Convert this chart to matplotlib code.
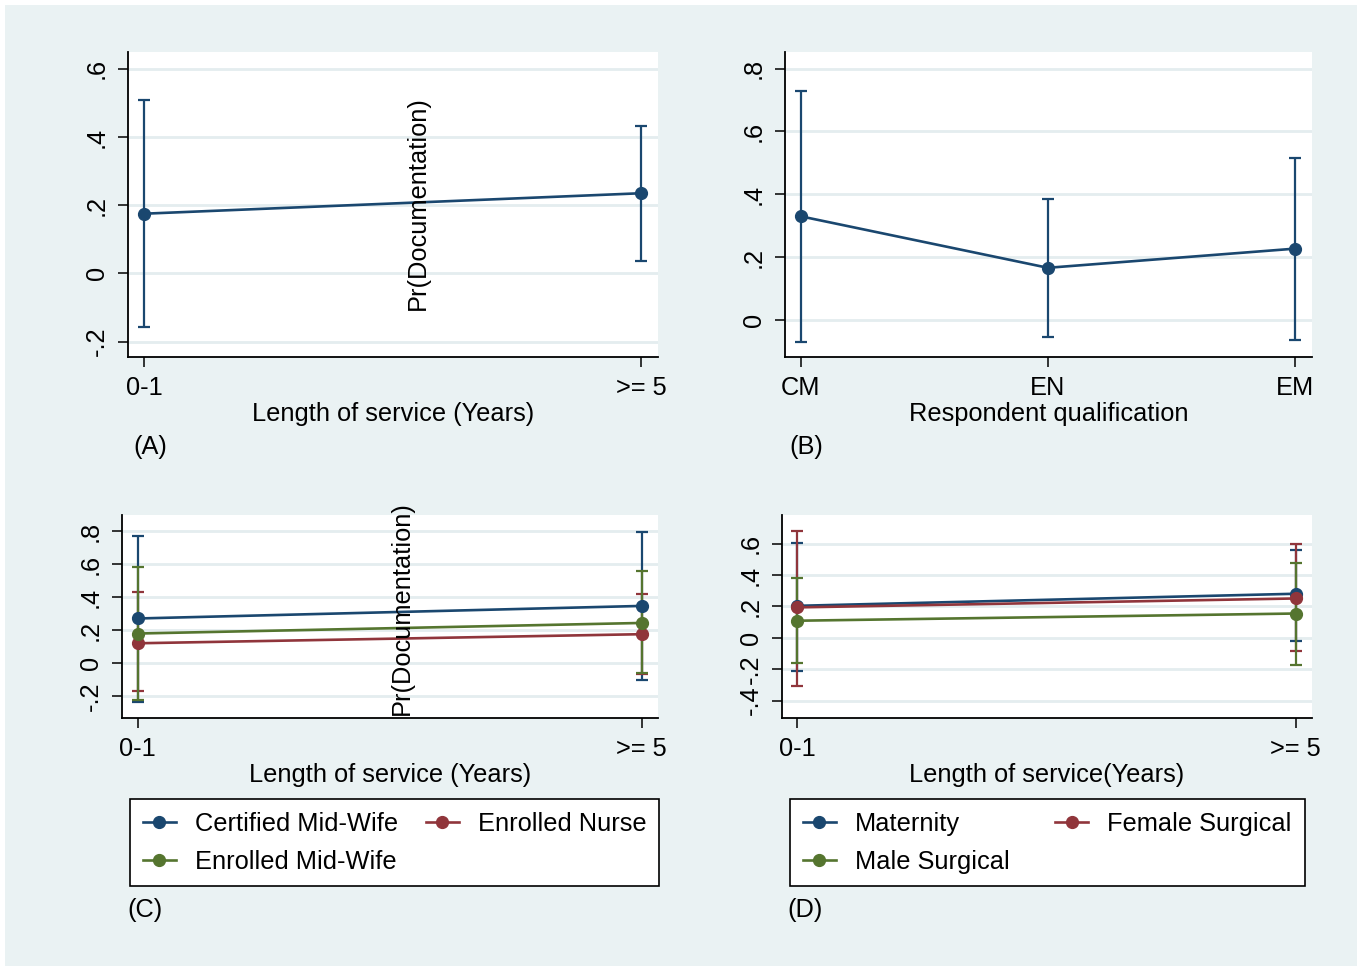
import matplotlib
matplotlib.use("Agg")
import matplotlib.pyplot as plt
from matplotlib.patches import Rectangle

plt.rcParams['font.family'] = ['Liberation Sans', 'DejaVu Sans']

# ---------------- data ----------------
cats_a = ["0-1", ">= 5"]
mean_a = [0.175, 0.235]
lo_a = [-0.158, 0.036]
hi_a = [0.507, 0.431]

cats_b = ["CM", "EN", "EM"]
mean_b = [0.330, 0.166, 0.227]
lo_b = [-0.069, -0.054, -0.063]
hi_b = [0.729, 0.385, 0.514]

cats_c = ["0-1", ">= 5"]
series_c = ["Certified Mid-Wife", "Enrolled Nurse", "Enrolled Mid-Wife"]
mean_c = [[0.271, 0.347], [0.121, 0.176], [0.180, 0.244]]
lo_c = [[-0.232, -0.099], [-0.170, -0.063], [-0.224, -0.059]]
hi_c = [[0.772, 0.796], [0.432, 0.422], [0.584, 0.556]]

cats_d = ["0-1", ">= 5"]
series_d = ["Maternity", "Female Surgical", "Male Surgical"]
mean_d = [[0.204, 0.281], [0.194, 0.251], [0.109, 0.155]]
lo_d = [[-0.209, -0.017], [-0.306, -0.087], [-0.162, -0.170]]
hi_d = [[0.606, 0.557], [0.679, 0.596], [0.379, 0.479]]

yticks_a = [-0.2, 0, 0.2, 0.4, 0.6]
ylabels_a = ["-.2", "0", ".2", ".4", ".6"]
yticks_b = [0, 0.2, 0.4, 0.6, 0.8]
ylabels_b = ["0", ".2", ".4", ".6", ".8"]
yticks_c = [-0.2, 0, 0.2, 0.4, 0.6, 0.8]
ylabels_c = ["-.2", "0", ".2", ".4", ".6", ".8"]
yticks_d = [-0.4, -0.2, 0, 0.2, 0.4, 0.6]
ylabels_d = ["-.4", "-.2", "0", ".2", ".4", ".6"]

colors = ["#1A476F", "#90353B", "#55752F"]
BG = "#EAF2F3"
FS = 18.3

W, H = 1362, 971
fig = plt.figure(figsize=(W / 100, H / 100), dpi=100)
fig.patch.set_facecolor("white")
fig.patches.append(Rectangle((5 / W, 5 / H), (W - 10) / W, (H - 10) / H,
                             transform=fig.transFigure, facecolor=BG,
                             edgecolor="none", zorder=-10))


def make_ax(left, right, top, bottom):
    return fig.add_axes([left / W, 1 - bottom / H, (right - left) / W, (bottom - top) / H])


def style(ax, cats, yt, yl, xlim, ylim, xlabel):
    ax.set_facecolor("white")
    for s in ["top", "right"]:
        ax.spines[s].set_visible(False)
    for s in ["left", "bottom"]:
        ax.spines[s].set_linewidth(1.3)
        ax.spines[s].set_color("black")
    ax.set_xticks(range(len(cats)))
    ax.set_xticklabels(cats, fontsize=FS)
    ax.set_yticks(yt)
    ax.set_yticklabels(yl, fontsize=FS, rotation=90, va="center")
    ax.tick_params(axis="both", direction="out", length=7, width=1.1, color="black")
    ax.tick_params(axis="x", pad=7)
    ax.tick_params(axis="y", pad=7)
    ax.set_xlim(*xlim)
    ax.set_ylim(*ylim)
    ax.yaxis.grid(True, color="#E4EDEF", linewidth=2.0)
    ax.set_axisbelow(True)
    ax.set_xlabel(xlabel, fontsize=FS, labelpad=1)


def plot_series(ax, x, m, lo, hi, color, label=None):
    yerr = [[mi - l for mi, l in zip(m, lo)], [h - mi for mi, h in zip(m, hi)]]
    ax.errorbar(x, m, yerr=yerr, fmt="none", ecolor=color, elinewidth=1.6,
                capsize=4.3, capthick=1.6, zorder=3)
    ax.plot(x, m, "-o", color=color, lw=1.9, markersize=8.5, zorder=4, label=label)


# Panel A
axA = make_ax(128, 658, 52, 357)
style(axA, cats_a, yticks_a, ylabels_a, (-0.032, 1.034), (-0.245, 0.649),
      "Length of service (Years)")
plot_series(axA, range(len(cats_a)), mean_a, lo_a, hi_a, colors[0])
fig.text(418 / W, 1 - 203 / H, "Pr(Documentation)", rotation=90, fontsize=FS,
         ha="center", va="center")

# Panel B
axB = make_ax(785, 1312, 52, 357)
style(axB, cats_b, yticks_b, ylabels_b, (-0.063, 2.068), (-0.118, 0.853),
      "Respondent qualification")
plot_series(axB, range(len(cats_b)), mean_b, lo_b, hi_b, colors[0])

# Panel C
axC = make_ax(122, 658, 515, 718)
style(axC, cats_c, yticks_c, ylabels_c, (-0.031, 1.032), (-0.331, 0.897),
      "Length of service (Years)")
for i, name in enumerate(series_c):
    plot_series(axC, range(len(cats_c)), mean_c[i], lo_c[i], hi_c[i], colors[i], name)
fig.text(402 / W, 1 - 608 / H, "Pr(Documentation)", rotation=90, fontsize=FS,
         ha="center", va="center")

# Panel D
axD = make_ax(782, 1312, 515, 718)
style(axD, cats_d, yticks_d, ylabels_d, (-0.030, 1.033), (-0.511, 0.783),
      "Length of service(Years)")
for i, name in enumerate(series_d):
    plot_series(axD, range(len(cats_d)), mean_d[i], lo_d[i], hi_d[i], colors[i], name)


def legend(ax, x0, y0, colsp):
    h, l = ax.get_legend_handles_labels()
    # row-wise filling: column-major order [0, 2, 1]
    order = [0, 2, 1]
    h = [h[i] for i in order]
    l = [l[i] for i in order]
    lg = fig.legend(h, l, ncol=2, loc="upper left",
                    bbox_to_anchor=(x0 / W, 1 - y0 / H), bbox_transform=fig.transFigure,
                    fontsize=FS, frameon=True, fancybox=False, framealpha=1,
                    handlelength=1.3, handletextpad=0.75, columnspacing=colsp,
                    borderpad=0.5, labelspacing=0.55, borderaxespad=0)
    lg.get_frame().set_edgecolor("black")
    lg.get_frame().set_facecolor("white")
    lg.get_frame().set_linewidth(1.2)
    return lg


legend(axC, 130, 799, 1.1)
legend(axD, 790, 799, 1.8)

fig.text(133 / W, 1 - 447 / H, "(A)", fontsize=FS, va="center")
fig.text(789 / W, 1 - 447 / H, "(B)", fontsize=FS, va="center")
fig.text(127 / W, 1 - 910 / H, "(C)", fontsize=FS, va="center")
fig.text(787 / W, 1 - 910 / H, "(D)", fontsize=FS, va="center")

fig.savefig("out.png", dpi=100, facecolor=fig.get_facecolor())
